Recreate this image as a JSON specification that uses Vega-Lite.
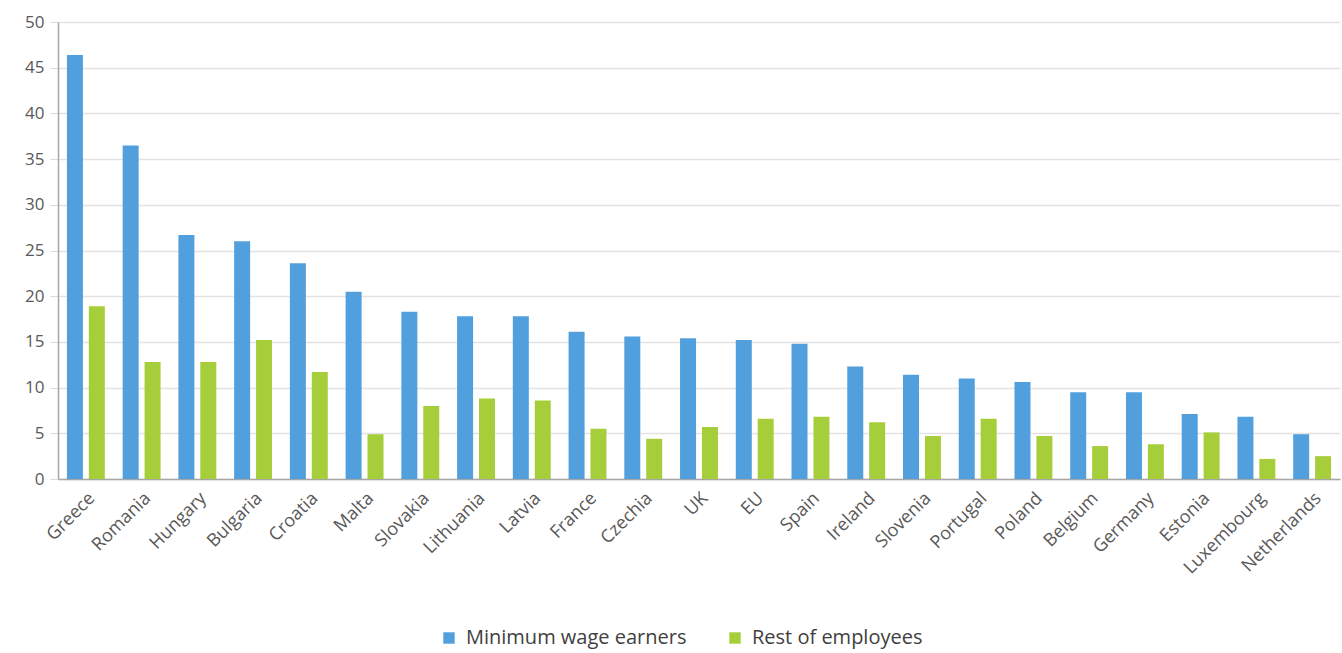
{
  "$schema": "https://vega.github.io/schema/vega-lite/v6.json",
  "width": 1282,
  "height": 457,
  "autosize": "none",
  "padding": {"left": 58, "top": 22, "right": 2, "bottom": 174},
  "background": "white",
  "config": {
    "font": "Open Sans",
    "view": {"stroke": null}
  },
  "data": {
    "values": [
      {"country": "Greece", "group": "Minimum wage earners", "value": 46.4},
      {"country": "Greece", "group": "Rest of employees", "value": 18.9},
      {"country": "Romania", "group": "Minimum wage earners", "value": 36.5},
      {"country": "Romania", "group": "Rest of employees", "value": 12.8},
      {"country": "Hungary", "group": "Minimum wage earners", "value": 26.7},
      {"country": "Hungary", "group": "Rest of employees", "value": 12.8},
      {"country": "Bulgaria", "group": "Minimum wage earners", "value": 26.0},
      {"country": "Bulgaria", "group": "Rest of employees", "value": 15.2},
      {"country": "Croatia", "group": "Minimum wage earners", "value": 23.6},
      {"country": "Croatia", "group": "Rest of employees", "value": 11.7},
      {"country": "Malta", "group": "Minimum wage earners", "value": 20.5},
      {"country": "Malta", "group": "Rest of employees", "value": 4.9},
      {"country": "Slovakia", "group": "Minimum wage earners", "value": 18.3},
      {"country": "Slovakia", "group": "Rest of employees", "value": 8.0},
      {"country": "Lithuania", "group": "Minimum wage earners", "value": 17.8},
      {"country": "Lithuania", "group": "Rest of employees", "value": 8.8},
      {"country": "Latvia", "group": "Minimum wage earners", "value": 17.8},
      {"country": "Latvia", "group": "Rest of employees", "value": 8.6},
      {"country": "France", "group": "Minimum wage earners", "value": 16.1},
      {"country": "France", "group": "Rest of employees", "value": 5.5},
      {"country": "Czechia", "group": "Minimum wage earners", "value": 15.6},
      {"country": "Czechia", "group": "Rest of employees", "value": 4.4},
      {"country": "UK", "group": "Minimum wage earners", "value": 15.4},
      {"country": "UK", "group": "Rest of employees", "value": 5.7},
      {"country": "EU", "group": "Minimum wage earners", "value": 15.2},
      {"country": "EU", "group": "Rest of employees", "value": 6.6},
      {"country": "Spain", "group": "Minimum wage earners", "value": 14.8},
      {"country": "Spain", "group": "Rest of employees", "value": 6.8},
      {"country": "Ireland", "group": "Minimum wage earners", "value": 12.3},
      {"country": "Ireland", "group": "Rest of employees", "value": 6.2},
      {"country": "Slovenia", "group": "Minimum wage earners", "value": 11.4},
      {"country": "Slovenia", "group": "Rest of employees", "value": 4.7},
      {"country": "Portugal", "group": "Minimum wage earners", "value": 11.0},
      {"country": "Portugal", "group": "Rest of employees", "value": 6.6},
      {"country": "Poland", "group": "Minimum wage earners", "value": 10.6},
      {"country": "Poland", "group": "Rest of employees", "value": 4.7},
      {"country": "Belgium", "group": "Minimum wage earners", "value": 9.5},
      {"country": "Belgium", "group": "Rest of employees", "value": 3.6},
      {"country": "Germany", "group": "Minimum wage earners", "value": 9.5},
      {"country": "Germany", "group": "Rest of employees", "value": 3.8},
      {"country": "Estonia", "group": "Minimum wage earners", "value": 7.1},
      {"country": "Estonia", "group": "Rest of employees", "value": 5.1},
      {"country": "Luxembourg", "group": "Minimum wage earners", "value": 6.8},
      {"country": "Luxembourg", "group": "Rest of employees", "value": 2.2},
      {"country": "Netherlands", "group": "Minimum wage earners", "value": 4.9},
      {"country": "Netherlands", "group": "Rest of employees", "value": 2.5}
    ]
  },
  "mark": {"type": "bar"},
  "encoding": {
    "x": {
      "field": "country",
      "type": "nominal",
      "sort": null,
      "title": null,
      "scale": {"paddingInner": 0.32, "paddingOuter": 0.16},
      "axis": {
        "labelAngle": -45,
        "labelFontSize": 18,
        "labelColor": "#595959",
        "labelPadding": 10,
        "labelLimit": 0,
        "ticks": false,
        "domainColor": "#a6a6a6",
        "domainWidth": 1.5,
        "grid": false
      }
    },
    "xOffset": {
      "field": "group",
      "type": "nominal",
      "scale": {"paddingInner": 0.27}
    },
    "y": {
      "field": "value",
      "type": "quantitative",
      "title": null,
      "scale": {"domain": [0, 50], "nice": false},
      "axis": {
        "values": [0, 5, 10, 15, 20, 25, 30, 35, 40, 45, 50],
        "labelFontSize": 17,
        "labelColor": "#595959",
        "labelPadding": 6,
        "tickColor": "#d9d9d9",
        "tickSize": 8,
        "domainColor": "#a6a6a6",
        "domainWidth": 1.5,
        "gridColor": "#e3e3e3",
        "gridWidth": 1.5
      }
    },
    "color": {
      "field": "group",
      "type": "nominal",
      "title": null,
      "scale": {
        "domain": ["Minimum wage earners", "Rest of employees"],
        "range": ["#519fdc", "#a6cd3a"]
      },
      "legend": {
        "orient": "none",
        "legendX": 381,
        "legendY": 606,
        "direction": "horizontal",
        "symbolType": "square",
        "symbolSize": 130,
        "labelFontSize": 20,
        "labelLimit": 0,
        "labelColor": "#404040",
        "columnPadding": 38,
        "labelOffset": 7
      }
    }
  }
}
